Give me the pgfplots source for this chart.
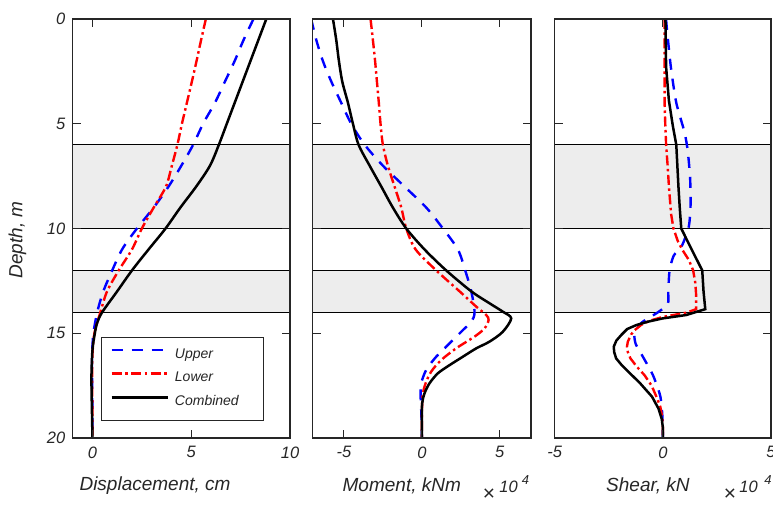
\documentclass[border=0pt]{standalone}
\usepackage{fontspec}
\setmainfont{Liberation Sans}
\usepackage{pgfplots}
\pgfplotsset{compat=1.18}

\definecolor{axisgray}{HTML}{262626}
\definecolor{bandgray}{HTML}{EDEDED}

\newcommand{\tickfont}{\fontsize{16.5bp}{19bp}\selectfont\itshape}
\newcommand{\labelfont}{\fontsize{19bp}{22bp}\selectfont\itshape}

% grey soil layers 6-10 m and 12-14 m
\newcommand{\bands}[2]{%
  \fill[bandgray] (axis cs:#1,6) rectangle (axis cs:#2,10);
  \fill[bandgray] (axis cs:#1,12) rectangle (axis cs:#2,14);
  \draw[black,line width=1bp] (axis cs:#1,6) -- (axis cs:#2,6);
  \draw[black,line width=1bp] (axis cs:#1,10) -- (axis cs:#2,10);
  \draw[black,line width=1bp] (axis cs:#1,12) -- (axis cs:#2,12);
  \draw[black,line width=1bp] (axis cs:#1,14) -- (axis cs:#2,14);
}

\pgfplotsset{
  panel/.style={
    anchor=south west, scale only axis,
    height=419bp,
    y dir=reverse, ymin=0, ymax=20, ytick={0,5,10,15,20},
    axis on top,
    axis line style={draw=axisgray,line width=1.1bp},
    tick style={draw=axisgray,line width=1.1bp},
    major tick length=8.5bp, tick align=inside,
    xtick pos=both, ytick pos=both,
    /pgf/number format/assume math mode=true,
    tick label style={font=\tickfont,text=axisgray},
    xticklabel style={yshift=-5bp},
    yticklabel style={xshift=-4bp},
    label style={font=\labelfont,text=axisgray},
    xlabel style={anchor=center},
    ylabel style={anchor=center},
    scaled x ticks=false,
  },
  upper/.style={draw=blue,line width=2.4bp,dash pattern=on 11bp off 9bp},
  lower/.style={draw=red,line width=2.4bp,dash pattern=on 10bp off 3.5bp on 2.5bp off 3.5bp},
  combined/.style={draw=black,line width=2.5bp},
}

\begin{document}
\begin{tikzpicture}[x=1bp,y=1bp]
\useasboundingbox (0,0) rectangle (773,507);

% ---- displacement
\begin{axis}[panel,
  at={(72.7bp,69bp)}, width=217.3bp,
  xmin=-1, xmax=10, xtick={0,5,10},
  xlabel={Displacement, cm},
  ylabel={Depth, m},
  xlabel style={at={(axis description cs:0.379,-0.114)}},
  ylabel style={at={(axis description cs:-0.254,0.4726)}},
  legend style={at={(axis description cs:0.130,0.2418)},anchor=north west,
    draw=axisgray,line width=1bp,fill=white,
    font=\fontsize{14bp}{16bp}\selectfont\itshape,
    inner xsep=9bp,inner ysep=8bp,row sep=4.2bp,column sep=6bp,
    nodes={text=axisgray,inner sep=0pt,text height=13bp,text depth=6.5bp}},
  legend cell align=left,
  legend image code/.code={\draw[#1] (0bp,5bp) -- (56bp,5bp);},
]
\bands{-1}{10}
\addplot[upper,smooth] coordinates {
 (8.15,0) (7.65,1) (7.2,2) (6.7,3) (6.2,4) (5.6,5) (5.1,6) (4.5,7) (3.85,8)
 (3.1,9) (2.25,10) (1.5,11) (1.0,12) (0.55,13) (0.24,14) (0.05,15) (-0.02,16)
 (-0.02,17) (-0.01,18) (0,19) (0,20)};
\addplot[lower,smooth] coordinates {
 (5.74,0) (5.5,1) (5.27,2) (5.03,3) (4.78,4) (4.53,5) (4.3,6) (4.02,7) (3.72,8)
 (3.1,9) (2.5,10) (2.0,11) (1.33,12) (0.74,13) (0.4,14) (0.1,15) (0.0,16)
 (-0.02,17) (-0.01,18) (0,19) (0,20)};
\addplot[combined,smooth,tension=0.5] coordinates {
 (8.8,0) (8.4,1) (8.0,2) (7.6,3) (7.2,4) (6.8,5) (6.4,6) (5.95,7) (5.25,8)
 (4.45,9) (3.7,10) (2.84,11) (2.0,12) (1.25,13) (0.49,14) (0.24,14.5)
 (0.12,15) (0.0,15.8) (-0.05,17) (-0.04,18) (-0.02,19) (0,20)};
\legend{\makebox[80bp][l]{Upper},Lower,Combined}
\end{axis}

% ---- moment (x 10^4 kNm)
\begin{axis}[panel,
  at={(312.7bp,69bp)}, width=218.3bp,
  xmin=-7, xmax=7, xtick={-5,0,5},
  yticklabels={},
  xlabel={Moment, kNm},
  xlabel style={at={(axis description cs:0.408,-0.114)}},
]
\bands{-7}{7}
\addplot[upper,smooth] coordinates {
 (-7.1,0) (-6.77,1) (-6.35,2) (-5.8,3) (-5.17,4) (-4.53,5) (-3.67,6) (-2.5,7)
 (-1.11,8) (0.28,9) (1.35,10) (2.31,11) (2.78,12) (3.17,13) (3.38,14)
 (3.17,14.45) (2.63,14.85) (1.78,15.48) (0.92,16.12) (0.28,16.75) (-0.04,17.39)
 (-0.08,17.97) (-0.03,18.9) (0,20)};
\addplot[lower,smooth] coordinates {
 (-3.29,0) (-3.14,1) (-3.0,2) (-2.88,3) (-2.76,4) (-2.65,5) (-2.5,6) (-2.18,7)
 (-1.75,8) (-1.32,9) (-1.0,10) (-0.4,11) (0.92,12) (2.42,13) (3.49,13.73)
 (4.13,14.13) (4.28,14.37) (4.02,14.77) (3.38,15.16) (2.2,15.72) (1.24,16.28)
 (0.6,16.83) (0.24,17.39) (0.05,17.97) (0,19) (0,20)};
\addplot[combined,smooth] coordinates {
 (-5.7,0) (-5.49,1) (-5.32,2) (-5.1,3) (-4.74,4) (-4.42,5) (-4.06,6) (-3.35,7)
 (-2.6,8) (-1.86,9) (-1.0,10) (0.17,11) (1.56,12) (3.17,13) (4.34,13.57)
 (5.19,13.97) (5.73,14.29) (5.19,14.93) (4.34,15.4) (3.49,15.72) (2.63,16.12)
 (1.78,16.52) (1.03,16.91) (0.49,17.39) (0.17,17.87) (0.02,18.34) (0,19) (0,20)};
\end{axis}

% ---- shear (x 10^4 kN)
\begin{axis}[panel,
  at={(554.7bp,69bp)}, width=216.3bp,
  xmin=-5, xmax=5, xtick={-5,0,5},
  yticklabels={},
  xlabel={Shear, kN},
  xlabel style={at={(axis description cs:0.431,-0.114)}},
]
\bands{-5}{5}
\addplot[upper,smooth,tension=0.4] coordinates {
 (0.15,0) (0.18,0.4) (0.37,2.3) (0.62,4.0) (1.0,5.4) (1.15,6.3) (1.26,7.6)
 (1.28,8.9) (1.2,9.9) (0.89,10.8) (0.5,11.3) (0.31,12) (0.25,13) (0.23,13.6)
 (-0.23,14) (-0.99,14.5) (-1.31,15) (-1.26,15.5) (-0.99,16) (-0.46,17)
 (-0.12,18) (-0.02,19) (0,20)};
\addplot[lower] coordinates {
 (0.08,0) (0.08,4) (0.11,5) (0.15,6) (0.22,7) (0.28,8) (0.38,9.3) (0.49,10)
 (0.69,10.6) (0.92,11.05) (1.2,11.5) (1.4,12) (1.5,12.6) (1.54,13.2) (1.54,13.85)
 (1.08,14.02) (0,14.22) (-0.6,14.4) (-1.0,14.6) (-1.3,14.85) (-1.46,15.05)
 (-1.62,15.4) (-1.66,15.65) (-1.62,15.9) (-1.5,16.2) (-1.2,16.6) (-0.85,17)
 (-0.52,17.5) (-0.31,18) (-0.12,18.5) (-0.03,19) (0,19.5) (0,20)};
\addplot[combined] coordinates {
 (0.12,0) (0.13,1) (0.15,2.3) (0.28,3.9) (0.46,5.1) (0.62,6) (0.67,7) (0.72,8)
 (0.78,9) (0.85,10) (1.33,11) (1.82,12) (1.88,13) (1.96,13.85) (1.08,14.13)
 (0,14.29) (-0.7,14.45) (-1.23,14.61) (-1.65,14.8) (-1.92,15.08) (-2.15,15.35)
 (-2.27,15.64) (-2.25,15.9) (-2.16,16.2) (-1.92,16.5) (-1.6,16.83) (-1.05,17.39)
 (-0.5,18.03) (-0.2,18.6) (-0.05,19.1) (0,19.5) (0,20)};
\end{axis}

% exponent of the moment and shear axes
\begin{scope}[every node/.style={text=axisgray,inner sep=0pt}]
\node[font=\fontsize{21bp}{21bp}\selectfont] at (489,12) {×};
\node[font=\fontsize{16.5bp}{16.5bp}\selectfont\itshape] at (508.5,20) {10};
\node[font=\fontsize{13bp}{13bp}\selectfont\itshape] at (525.5,27) {4};
\node[font=\fontsize{21bp}{21bp}\selectfont] at (730,12) {×};
\node[font=\fontsize{16.5bp}{16.5bp}\selectfont\itshape] at (748.5,20) {10};
\node[font=\fontsize{13bp}{13bp}\selectfont\itshape] at (768,27) {4};
\end{scope}
\end{tikzpicture}
\end{document}
